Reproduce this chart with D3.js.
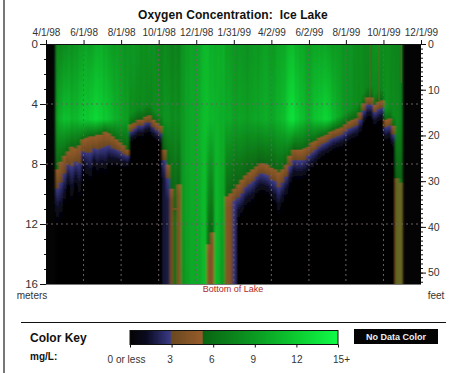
<!DOCTYPE html>
<html><head><meta charset="utf-8">
<script src="https://cdn.jsdelivr.net/npm/d3@7/dist/d3.min.js"></script>
<style>html,body{margin:0;background:#fff}svg{display:block}text{font-family:"Liberation Sans",Arial,sans-serif}</style>
</head><body><svg id="c" width="462" height="373"></svg>
<script>
const tickDates=["1998-04-01","1998-06-01","1998-08-01","1998-10-01","1998-12-01","1999-01-31","1999-04-02","1999-06-02","1999-08-01","1999-10-01","1999-12-01"];
const tickLabels=["4/1/98","6/1/98","8/1/98","10/1/98","12/1/98","1/31/99","4/2/99","6/2/99","8/1/99","10/1/99","12/1/99"];
const meterTicks=[0,4,8,12,16];
const feetTicks=[10,20,30,40,50];
const keyTicks=[0,3,6,9,12,15];
const keyLabels=["0 or less","3","6","9","12","15+"];
// sampling days (days after 4/1/98); one more than the number of columns
const sampleDays=[15,21,27,33,39,45,51,57,63,69,75,81,87,93,99,105,111,117,123,129,135,141,147,153,159,165,171,177,183,189,195,201,207,213,219,225,231,237,243,249,255,261,267,273,279,285,291,297,303,309,315,321,327,333,339,345,351,357,363,369,375,381,387,393,399,405,411,417,423,429,435,441,447,453,459,465,471,477,483,489,495,501,507,513,519,525,531,537,543,549,555,561,567,573,579];
// DO (mg/L) at the surface
const surfaceDO=[7.8,7.6,8.2,8.6,8.2,8.8,9.3,9.4,9.7,9.5,
 10,10.3,10.5,10,9.5,9.2,9.4,9,8.7,8.9,
 8.8,9,8.8,8.4,8.2,8.6,8.6,8,7.6,8.2,
 7.8,7.2,7.8,7.2,8.6,9.4,9.6,9.5,9.7,10.4,
 10.9,10.9,10.5,10.2,10.3,10.6,9.4,9.2,9,8.8,
 8.7,8.6,8.7,8.8,9,9.2,9.5,9.4,9.2,9.2,
 9.7,10,10.4,11,11.2,10.5,10,9.8,9.4,9.6,
 9.8,10,9.8,9.6,9.4,9.2,9,8.8,8.8,8.6,
 8.5,8.3,8.2,7.8,7.8,7.9,8.5,8.5,8.3,8,
 8.2,7.8,7.5,7.2];
// DO (mg/L) in the mid layer, about 5 m
const midDO=[9.5,10.5,11.5,11.5,10.5,11,11.5,12,12,12.5,
 12.8,12.8,12.5,12,11.5,11,10.5,10,9.5,9.5,
 8.2,8.2,8,8,7.8,7.8,8,8,8,8.6,
 8.6,8,8.5,8,9,9.8,10,10,10.2,10.8,
 11.2,11.2,11,10.6,10.4,10.5,10,10,9.6,9.6,
 9.5,9.4,9.5,9.6,9.8,10,10.2,10.2,10,10.2,
 10.6,11.2,12,13,13.5,12.5,11.5,11,10.5,11,
 11.8,12.2,12.5,12.6,12,11,10,9.5,9,8.6,
 8.4,8.2,8,7.8,7.6,7.6,7.8,7.6,7.8,8.6,
 8.2,8.2,8,7.2];
// depth (m) where DO falls to the brown band; 16 = no oxycline
const oxyTop=[8.4,7.9,7.5,7.2,6.9,7,6.8,6.4,6.3,6.2,
 6.2,6.1,6.05,5.9,6,6.2,6.4,6.6,6.8,7.05,
 5.4,5.25,5.05,5.05,4.85,4.8,5.1,5.3,5.5,7.05,
 8.1,9.7,11,9.4,16,16,16,16,16,16,
 16,13.4,12.6,16,16,16,10.2,10,9.7,9.4,
 9.1,8.8,8.6,8.4,8.15,7.95,8,8.1,8.3,8.35,
 8.6,8.4,8.05,7.5,7.05,7.1,7.1,7,6.85,6.6,
 6.5,6.3,6.2,6.05,5.9,5.75,5.65,5.55,5.4,5.2,
 5.05,4.95,4.6,4,3.6,3.6,4.1,3.9,3.8,5.1,
 5,5.5,9,9.3];
// depth range (m) over which DO keeps falling below that point
const dropM=[3.5,3.8,3.2,2.4,3.6,2.5,3.4,2,2.6,3,
 2.2,2.6,2.5,2.8,2.2,2,1.8,1.6,1.5,1.2,
 1.2,1.2,1.2,1.2,1.2,1.2,1.2,1.2,1.2,2,
 2.5,2,2,2,1,1,1,1,1,1,
 1,2,2,1,1,1,2,2.5,2.2,2.4,
 2.4,2.2,2.2,2.2,2,2,2,2,2.2,2.4,
 2.8,2.4,2.2,2,2,2,2,2,1.8,1.8,
 1.6,1.5,1.4,1.4,1.4,1.4,1.4,1.4,1.4,1.4,
 1.4,1.4,1.4,1.4,1.4,1.4,1.4,1.4,1.4,1.4,
 1.4,1.5,1,1];
// DO (mg/L) at the lake bottom
const bottomDO=[0,0,0,0,0,0,0,0,0,0,
 0,0,0,0,0,0,0,0,0,0,
 0,0,0,0,0,0,0,0,0,1.6,
 1.8,3.6,6.2,4.4,8.5,9.5,10,10,10.2,10.5,
 11,4.5,4.5,11,10,9,4.5,4,2.6,0,
 0,0,0,0,0,0,0,0,0,0,
 0,0,0,0,0,0,0,0,0,0,
 0,0,0,0,0,0,0,0,0,0,
 0,0,0,0,0,0,0,0,0,0,
 0,0,4.6,4.9];
// thin low-oxygen streaks from the surface
const streakDays=[525,540,576];
const streakDepths=[3.8,3.8,2.6];
// late-1999 band where low and moderate readings mix (days, top depth m)
const mixDays=[567,579];
const mixTop=9;

const svg=d3.select("#c");
const parse=d3.utcParse("%Y-%m-%d");
const x=d3.scaleUtc().domain([parse(tickDates[0]),parse(tickDates[10])]).range([46,421]);
const day=d=>new Date(parse(tickDates[0]).getTime()+d*864e5);
const y=d3.scaleLinear().domain([0,16]).range([44,284]);
const yFeet=d3.scaleLinear().domain([0,16/0.3048]).range([44,284]);
const color=d3.scaleLinear()
 .domain([0,1.2,3,3,5.27,5.27,9,12,15])
 .range(["#040404","#0a0a20","#3c3c8c","#6a4820","#985c2a","#0a6412","#0b9a22","#0ccb30","#10fb48"])
 .clamp(true);

// profile value at depth
function profile(i,d){
 const oxy=oxyTop[i],midD=Math.min(5,oxy-0.8);
 if(oxy>=16) return d3.scaleLinear().domain([0,5,16]).range([surfaceDO[i],midDO[i],bottomDO[i]])(d);
 const end=bottomDO[i], brownEnd=Math.max(end,3);
 return d3.scaleLinear().domain([0,midD,oxy,oxy+dropM[i]*0.35,oxy+dropM[i]])
  .range([surfaceDO[i],midDO[i],5.26,brownEnd,end]).clamp(true)(d);
}
const defs=svg.append("defs");
defs.append("clipPath").attr("id","plotClip").append("rect")
 .attr("x",x.range()[0]).attr("y",y.range()[0]).attr("width",x.range()[1]-x.range()[0]).attr("height",y.range()[1]-y.range()[0]);
defs.append("filter").attr("id","soft").attr("x","-5%").attr("width","110%").attr("y","-5%").attr("height","110%")
 .append("feGaussianBlur").attr("stdDeviation","0.9 0.3");
const depths=d3.range(0,16.01,0.1);
oxyTop.forEach((_,i)=>{
 const g=defs.append("linearGradient").attr("id","col"+i).attr("x1",0).attr("x2",0).attr("y1",0).attr("y2",1);
 depths.forEach(d=>g.append("stop").attr("offset",d/16).attr("stop-color",color(profile(i,d))));
});
const plot=svg.append("g").attr("clip-path","url(#plotClip)");
plot.append("rect").attr("x",46).attr("y",44).attr("width",375).attr("height",240).attr("fill","#040404");
const blurred=plot.append("g").attr("filter","url(#soft)");
blurred.selectAll("rect.col").data(oxyTop).join("rect").attr("class","col")
 .attr("x",(_,i)=>x(day(sampleDays[i])))
 .attr("width",(_,i)=>x(day(sampleDays[i+1]))-x(day(sampleDays[i]))+0.3)
 .attr("y",y(0)).attr("height",y(16)-y(0))
 .attr("fill",(_,i)=>`url(#col${i})`);
plot.append("rect").attr("x",x(day(mixDays[0]))).attr("width",x(day(mixDays[1]))-x(day(mixDays[0])))
 .attr("y",y(mixTop)).attr("height",y(16)-y(mixTop)).attr("fill",color(8)).attr("opacity",.3);
plot.selectAll("rect.streak").data(streakDays).join("rect").attr("class","streak")
 .attr("x",d=>x(day(d))).attr("width",1.2).attr("y",y(0))
 .attr("height",(_,i)=>y(streakDepths[i])-y(0))
 .attr("fill",color(4.6)).attr("opacity",.65);
// grid
const gridCol="#6e5c66";
plot.selectAll("line.gv").data(tickDates.slice(1,10)).join("line").attr("class","gv")
 .attr("x1",d=>x(parse(d))).attr("x2",d=>x(parse(d))).attr("y1",44).attr("y2",284)
 .attr("stroke",gridCol).attr("stroke-width",1).attr("stroke-dasharray","2,3");
plot.selectAll("line.gh").data(meterTicks.slice(1,4)).join("line").attr("class","gh")
 .attr("y1",d=>y(d)).attr("y2",d=>y(d)).attr("x1",46).attr("x2",421)
 .attr("stroke",gridCol).attr("stroke-width",1).attr("stroke-dasharray","2,3");

// axes
function styleAxis(g,fs){g.selectAll("text").attr("font-size",fs).attr("fill","#333");g.selectAll("line,path").attr("stroke","#111");}
const topAxis=svg.append("g").attr("transform","translate(0,44)")
 .call(d3.axisTop(x).tickValues(tickDates.map(parse)).tickFormat((_,i)=>tickLabels[i]).tickSize(4).tickSizeOuter(0));
styleAxis(topAxis,10); topAxis.selectAll("text").attr("y",-8);
topAxis.select("path").attr("stroke-width",1.2);
const leftMinor=svg.append("g").attr("transform","translate(46,0)")
 .call(d3.axisLeft(y).tickValues(d3.range(0,17)).tickFormat("").tickSize(2).tickSizeOuter(0));
styleAxis(leftMinor,10); leftMinor.select("path").remove();
const leftAxis=svg.append("g").attr("transform","translate(46,0)")
 .call(d3.axisLeft(y).tickValues(meterTicks).tickSize(6).tickSizeOuter(0));
styleAxis(leftAxis,11.5); leftAxis.select("path").remove(); leftAxis.selectAll("text").attr("x",-8);
const rightMinor=svg.append("g").attr("transform","translate(421,0)")
 .call(d3.axisRight(yFeet).tickValues(d3.range(0,53)).tickFormat("").tickSize(2).tickSizeOuter(0));
styleAxis(rightMinor,10); rightMinor.select("path").remove();
const rightAxis=svg.append("g").attr("transform","translate(421,0)")
 .call(d3.axisRight(yFeet).tickValues([0,...feetTicks]).tickSize(5).tickSizeOuter(0));
styleAxis(rightAxis,10.5); rightAxis.select("path").remove(); rightAxis.selectAll("text").attr("x",7);
svg.append("line").attr("x1",46).attr("x2",421).attr("y1",284.5).attr("y2",284.5).attr("stroke","#777").attr("stroke-width",1);

// texts
const T=(s,xx,yy,o={})=>svg.append("text").text(s).attr("x",xx).attr("y",yy)
 .attr("font-size",o.fs||10).attr("font-weight",o.b?"bold":"normal").attr("text-anchor",o.a||"start").attr("fill",o.c||"#333");
T("Oxygen Concentration:  Ice Lake",233,19,{fs:12,b:1,a:"middle",c:"#111"}).style("white-space","pre").style("letter-spacing","0.1px");
T("meters",32,299,{a:"middle",fs:10});
T("feet",436,299,{a:"middle",fs:10});
T("Bottom of Lake",233,292,{a:"middle",fs:9,c:"#b02a2a"});

// frame and key
svg.append("rect").attr("x",3).attr("y",0).attr("width",2).attr("height",373).attr("fill","#777");
svg.append("line").attr("x1",21).attr("x2",446).attr("y1",322.5).attr("y2",322.5).attr("stroke","#111");
T("Color Key",30,342,{fs:12,b:1,c:"#111"});
T("mg/L:",30,360,{fs:10,b:1,c:"#111"});
const kx=d3.scaleLinear().domain([0,15]).range([130,338]);
const kg=defs.append("linearGradient").attr("id","keyGrad");
d3.range(0,15.01,0.1).forEach(v=>kg.append("stop").attr("offset",v/15).attr("stop-color",color(v)));
svg.append("rect").attr("x",kx(0)).attr("y",330.5).attr("width",kx(15)-kx(0)).attr("height",14).attr("fill","url(#keyGrad)").attr("stroke","#111");
const keyAxis=svg.append("g").attr("transform","translate(0,344.5)")
 .call(d3.axisBottom(kx).tickValues(keyTicks).tickFormat((_,i)=>keyLabels[i]).tickSize(3).tickSizeOuter(0));
styleAxis(keyAxis,10); keyAxis.select("path").remove();
keyAxis.selectAll("text").attr("y",11).attr("dx",(_,i)=>[-4,-2,-2,-2,0,3][i]);
svg.append("rect").attr("x",354).attr("y",329).attr("width",84).attr("height",15).attr("fill","#040404");
T("No Data Color",396,340,{fs:9,b:1,a:"middle",c:"#eee"});
</script></body></html>
